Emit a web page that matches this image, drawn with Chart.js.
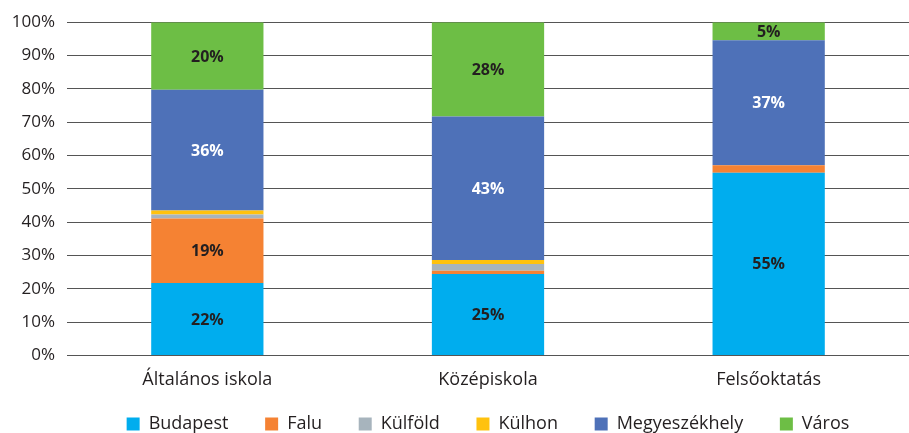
<!DOCTYPE html>
<html>
<head>
<meta charset="utf-8">
<script src="https://cdn.jsdelivr.net/npm/chart.js@4"></script>
<style>
  html, body { margin: 0; padding: 0; background: #fff; }
  #wrap { width: 909px; height: 433px; }
</style>
</head>
<body>
<div id="wrap"><canvas id="chart"></canvas></div>
<script>
const categories = ["Általános iskola", "Középiskola", "Felsőoktatás"];

const budapest = [21.7, 24.4, 54.8];
const falu = [19.4, 1.0, 2.3];
const kulfold = [1.2, 2.0, 0];
const kulhon = [1.2, 1.2, 0];
const megyeszekhely = [36.2, 43.1, 37.5];
const varos = [20.3, 28.3, 5.4];

// shown labels (rounded as in the source)
const budapestLbl = ["22%", "25%", "55%"];
const faluLbl = ["19%", "", ""];
const megyeLbl = ["36%", "43%", "37%"];
const varosLbl = ["20%", "28%", "5%"];

const yTicks = ["0%", "10%", "20%", "30%", "40%", "50%", "60%", "70%", "80%", "90%", "100%"];

const FONT = "'Open Sans', 'Noto Sans', sans-serif";
const TEXT = "#231f20";

const series = [
    { label: "Budapest", data: budapest, color: "#00adee", lbl: budapestLbl, lblColor: TEXT },
    { label: "Falu", data: falu, color: "#f58233", lbl: faluLbl, lblColor: TEXT },
    { label: "Külföld", data: kulfold, color: "#a7b4bd", lbl: null },
    { label: "Külhon", data: kulhon, color: "#ffc20e", lbl: null },
    { label: "Megyeszékhely", data: megyeszekhely, color: "#4e71b8", lbl: megyeLbl, lblColor: "#ffffff" },
    { label: "Város", data: varos, color: "#6dbe45", lbl: varosLbl, lblColor: TEXT },
];

// simple in-bar labels
const barLabels = {
    id: "barLabels",
    afterDatasetsDraw(chart) {
        const ctx = chart.ctx;
        ctx.save();
        ctx.font = "bold 16px " + FONT;
        ctx.textAlign = "center";
        ctx.textBaseline = "middle";
        chart.data.datasets.forEach((ds, i) => {
            const s = series[i];
            if (!s.lbl) return;
            const meta = chart.getDatasetMeta(i);
            meta.data.forEach((bar, j) => {
                const t = s.lbl[j];
                if (!t) return;
                ctx.fillStyle = s.lblColor;
                ctx.fillText(t, bar.x, (bar.y + bar.base) / 2 + 1);
            });
        });
        ctx.restore();
    },
};

// legend: less vertical room under the items
const legendFit = {
    id: "legendFit",
    beforeInit(chart) {
        const lg = chart.legend;
        if (!lg) return;
        const orig = lg.fit;
        lg.fit = function () {
            orig.call(this);
            this.height -= 10;
        };
    },
};

new Chart(document.getElementById("chart"), {
    type: "bar",
    data: {
        labels: categories,
        datasets: series.map((s) => ({
            label: s.label,
            data: s.data,
            backgroundColor: s.color,
            borderWidth: 0,
            categoryPercentage: 1,
            barPercentage: 0.4,
        })),
    },
    options: {
        responsive: true,
        maintainAspectRatio: false,
        animation: false,
        layout: { padding: { top: 10, right: 0, left: 0, bottom: 0 } },
        plugins: {
            tooltip: { enabled: false },
            legend: {
                position: "bottom",
                fullSize: false,
                labels: {
                    boxWidth: 13,
                    boxHeight: 13,
                    padding: 18,
                    color: TEXT,
                    font: { family: FONT, size: 18 },
                    generateLabels: (chart) =>
                        Chart.defaults.plugins.legend.labels.generateLabels(chart).map((it, i, arr) => {
                            it.text = it.text + (i < arr.length - 1 ? "    " : "");
                            return it;
                        }),
                },
            },
        },
        scales: {
            x: {
                stacked: true,
                grid: { display: false },
                border: { display: false },
                ticks: { color: TEXT, font: { family: FONT, size: 18 }, padding: 6 },
            },
            y: {
                stacked: true,
                min: 0,
                max: 100,
                afterFit: (scale) => { scale.width = 67; },
                grid: { color: "#555", lineWidth: 1, drawTicks: false },
                border: { display: false },
                ticks: {
                    stepSize: 10,
                    padding: 12,
                    color: TEXT,
                    font: { family: FONT, size: 17 },
                    callback: (v) => yTicks[v / 10],
                },
            },
        },
    },
    plugins: [barLabels, legendFit],
});
</script>
</body>
</html>
